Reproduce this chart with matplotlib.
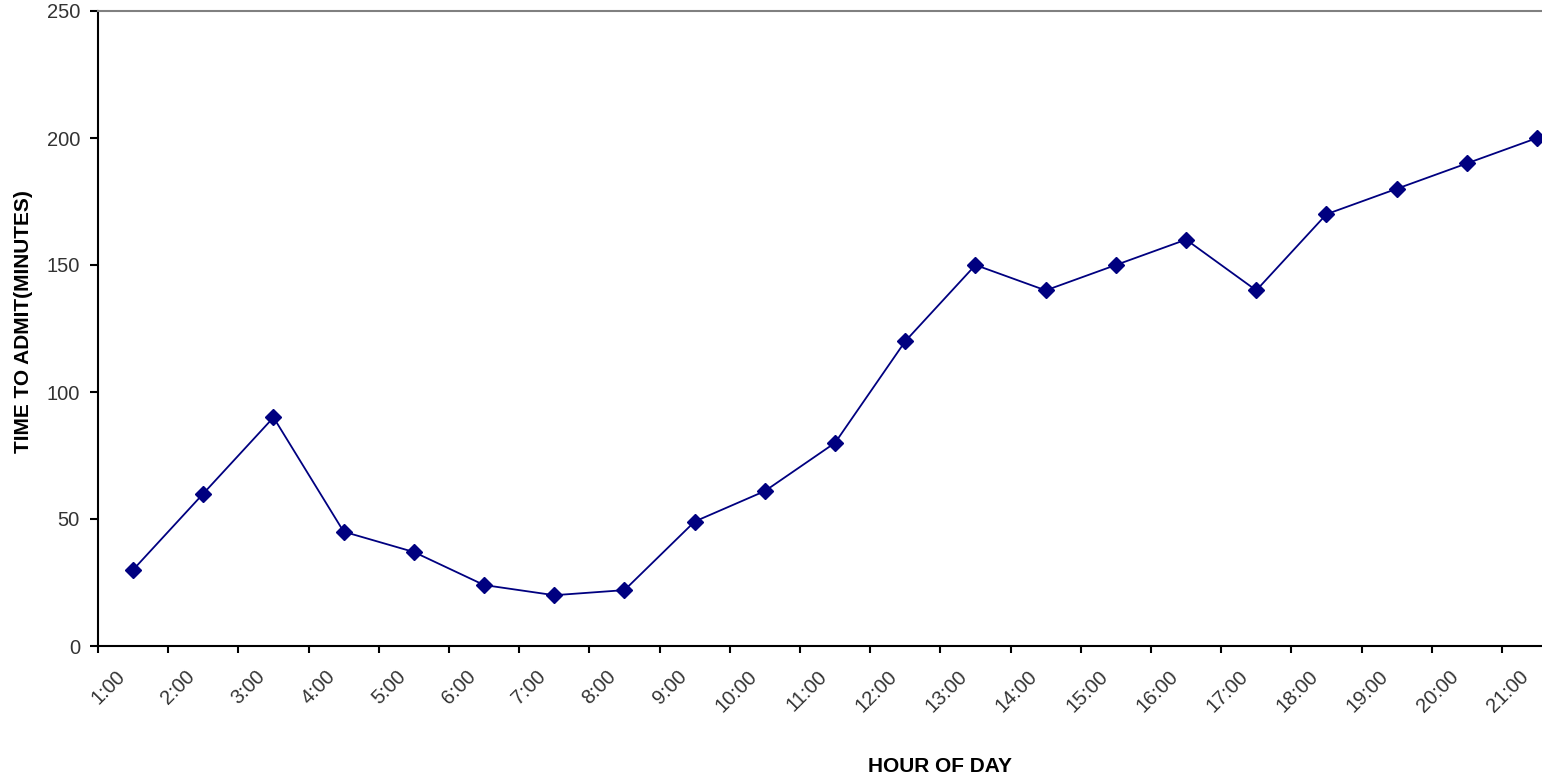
import matplotlib
matplotlib.use("Agg")
import matplotlib.pyplot as plt
from matplotlib.transforms import ScaledTranslation
import numpy as np

hours = [f"{h}:00" for h in range(1, 22)]
time_to_admit = [30, 60, 90, 45, 37, 24, 20, 22, 49, 61, 80, 120, 150, 140, 150, 160, 140, 170, 180, 190, 200]
y_ticks = [0, 50, 100, 150, 200, 250]

plt.rcParams['font.family'] = ['Liberation Sans', 'DejaVu Sans']

W, H = 1542, 779
fig = plt.figure(figsize=(W / 100, H / 100), dpi=100)
left_px, right_px, top_px, bot_px = 98, 1542, 11, 646
ax = fig.add_axes([left_px / W, 1 - bot_px / H, (right_px - left_px) / W, (bot_px - top_px) / H])

x = np.arange(len(hours))
ax.plot(x, time_to_admit, color='#000080', lw=1.3, marker='D', markersize=8.5,
        markerfacecolor='#000080', markeredgecolor='#000080', clip_on=False, zorder=3)

ax.set_yticks(y_ticks)
ax.set_yticklabels([str(v) for v in y_ticks])
ax.set_xticks(x)
ax.set_xticklabels(hours)
ax.set_xticks(np.arange(-0.5, 20.6, 1.0), minor=True)
ax.set_ylim(0, 250)
ax.set_xlim(-0.5, 20.07)

ax.tick_params(axis='x', which='major', length=0, pad=15, labelsize=14.5, labelcolor='#333333')
ax.tick_params(axis='x', which='minor', length=5, width=1.5, direction='out', color='black')
ax.tick_params(axis='y', which='major', length=6, width=1.5, direction='out', pad=7,
               labelsize=14.5, labelcolor='#333333', color='black')

off = ScaledTranslation(-18 / 100, 0, fig.dpi_scale_trans)
for lab in ax.get_xticklabels():
    lab.set_rotation(45)
    lab.set_ha('right')
    lab.set_va('top')
    lab.set_rotation_mode('anchor')
    lab.set_transform(lab.get_transform() + off)

for s in ['left', 'bottom']:
    ax.spines[s].set_color('black')
    ax.spines[s].set_linewidth(1.5)
ax.spines['top'].set_color('#808080')
ax.spines['top'].set_linewidth(1.5)
ax.spines['right'].set_visible(False)

fig.text(940 / W, 1 - 766 / H, 'HOUR OF DAY', ha='center', va='center',
         fontsize=15, fontweight='bold', color='black')
fig.text(24 / W, 1 - 322 / H, 'TIME TO ADMIT(MINUTES)', ha='center', va='center',
         rotation=90, fontsize=15, fontweight='bold', color='black')

fig.savefig('out.png', dpi=100)
